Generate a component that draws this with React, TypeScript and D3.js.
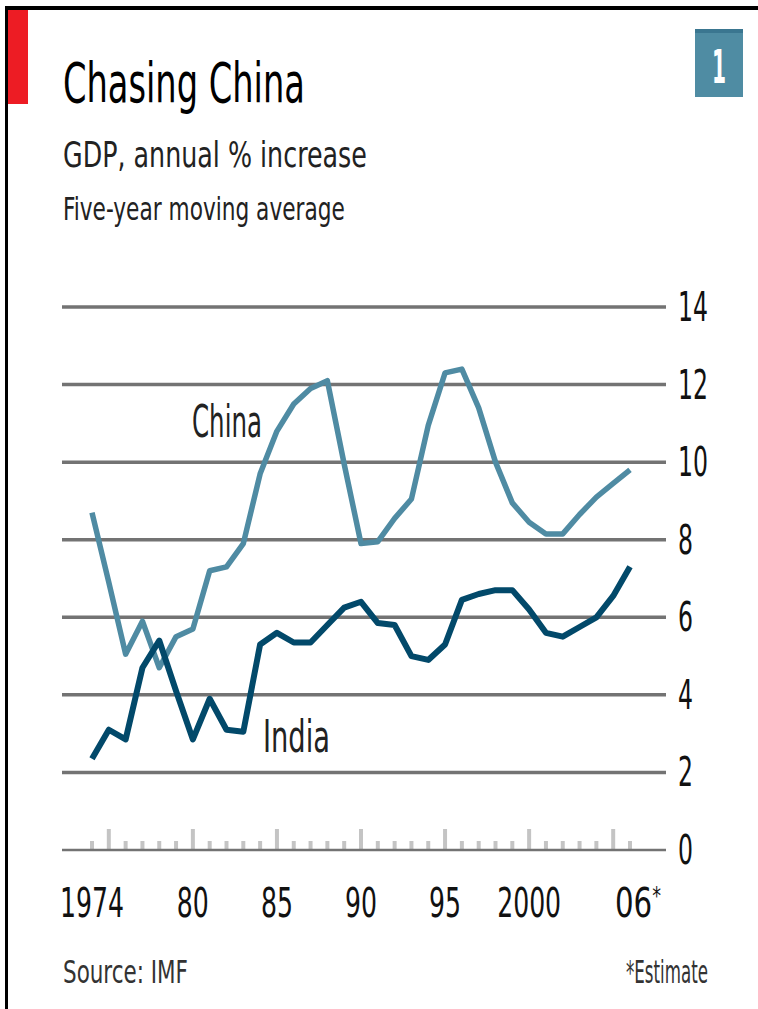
import * as d3 from 'd3';
import { useLayoutEffect, useRef } from 'react';

const W = 758;
const H = 1009;

// chart data
const years = d3.range(1974, 2007);
const china = [
  8.7, 6.9, 5.05, 5.9, 4.7, 5.5, 5.7, 7.2, 7.3, 7.9, 9.7, 10.8, 11.5, 11.9, 12.1,
  9.95, 7.9, 7.95, 8.55, 9.05, 10.95, 12.3, 12.4, 11.4, 10.0, 8.95, 8.45, 8.15,
  8.15, 8.65, 9.1, 9.45, 9.8,
];
const india = [
  2.35, 3.1, 2.85, 4.7, 5.4, 4.1, 2.85, 3.9, 3.1, 3.05, 5.3, 5.6, 5.35, 5.35, 5.8,
  6.25, 6.4, 5.85, 5.8, 5.0, 4.9, 5.3, 6.45, 6.6, 6.7, 6.7, 6.2, 5.6, 5.5, 5.75,
  6.0, 6.55, 7.3,
];
const yTicks = [0, 2, 4, 6, 8, 10, 12, 14];
const xLabels = [
  { year: 1974, label: '1974' },
  { year: 1980, label: '80' },
  { year: 1985, label: '85' },
  { year: 1990, label: '90' },
  { year: 1995, label: '95' },
  { year: 2000, label: '2000' },
];

const font = "'Liberation Sans Narrow', 'DejaVu Sans Condensed', 'Liberation Sans', Arial, sans-serif";
const chinaColor = '#4f8ba3';
const indiaColor = '#02496a';
const gridColor = '#737373';

const x = d3.scaleLinear().domain([1974, 2006]).range([92, 630]);
const y = d3.scaleLinear().domain([0, 14]).range([850, 307]);

const line = d3
  .line<number>()
  .x((_, i) => x(years[i]))
  .y((d) => y(d));

// squeezed text: the source font is very condensed, so measure and scale to the wanted width
const T = ({ x, y, size, len, anchor = 'start', fill = '#222', weight = 'normal', children }) => {
  const ref = useRef<SVGTextElement>(null);
  useLayoutEffect(() => {
    const el = ref.current;
    if (!el) return;
    const w = el.getComputedTextLength();
    const s = w > 0 ? len / w : 1;
    el.setAttribute('transform', `translate(${x},${y}) scale(${s},1)`);
  }, [x, y, len]);
  return (
    <text
      ref={ref}
      transform={`translate(${x},${y})`}
      fontSize={size}
      fontFamily={font}
      fontWeight={weight}
      fill={fill}
      textAnchor={anchor}
    >
      {children}
    </text>
  );
};

export default function App() {
  const gridLeft = 62;
  const gridRight = 666;

  return (
    <svg
      width={W}
      height={H}
      style={{ position: 'absolute', left: 0, top: 0, background: '#fff' }}
    >
      {/* frame */}
      <rect x={5} y={6} width={W - 5} height={4} fill="#000" />
      <rect x={5} y={6} width={3} height={H - 6} fill="#000" />
      <rect x={8} y={10} width={20} height={94} fill="#ed1c24" />

      {/* chart number box */}
      <rect x={695} y={29} width={48} height={68} fill="#4f8ca3" />
      <rect x={695} y={29} width={48} height={4} fill="#3a7690" />
      <T x={719} y={83} size={46} len={14} anchor="middle" fill="#fff" weight="bold">1</T>

      {/* titles */}
      <T x={63} y={102} size={56} len={242} fill="#000">Chasing China</T>
      <T x={63} y={167} size={35} len={304}>GDP, annual % increase</T>
      <T x={63} y={220} size={32} len={282}>Five-year moving average</T>

      {/* grid */}
      {yTicks.filter((v) => v > 0).map((v) => (
        <line
          key={v}
          x1={gridLeft}
          x2={gridRight}
          y1={y(v)}
          y2={y(v)}
          stroke={gridColor}
          strokeWidth={3.5}
        />
      ))}

      {/* year ticks */}
      {years.map((yr) => (
        <line
          key={yr}
          x1={x(yr)}
          x2={x(yr)}
          y1={y(0)}
          y2={y(0) - (yr % 5 === 0 ? 21 : 9)}
          stroke="#c4c4c4"
          strokeWidth={4}
        />
      ))}
      <line x1={gridLeft} x2={gridRight} y1={y(0)} y2={y(0)} stroke={gridColor} strokeWidth={2.5} />

      {/* y labels */}
      {yTicks.map((v) => (
        <T key={v} x={678} y={y(v) + 14} size={40} len={String(v).length * 15} fill="#111">
          {v}
        </T>
      ))}

      {/* x labels */}
      {xLabels.map((d) => (
        <T key={d.year} x={x(d.year)} y={917} size={40} len={d.label.length * 16} anchor="middle" fill="#111">
          {d.label}
        </T>
      ))}
      <T x={615} y={917} size={40} len={46} fill="#111">
        06<tspan fontSize={24} dy={-13}>*</tspan>
      </T>

      {/* series */}
      <path d={line(china)} fill="none" stroke={chinaColor} strokeWidth={5.5} strokeLinejoin="round" />
      <path d={line(india)} fill="none" stroke={indiaColor} strokeWidth={6} strokeLinejoin="round" />

      <T x={192} y={437} size={44} len={70}>China</T>
      <T x={263} y={752} size={44} len={67}>India</T>

      {/* footer */}
      <T x={63} y={983} size={32} len={125} fill="#333">Source: IMF</T>
      <T x={626} y={983} size={32} len={82} fill="#333">*Estimate</T>
    </svg>
  );
}
